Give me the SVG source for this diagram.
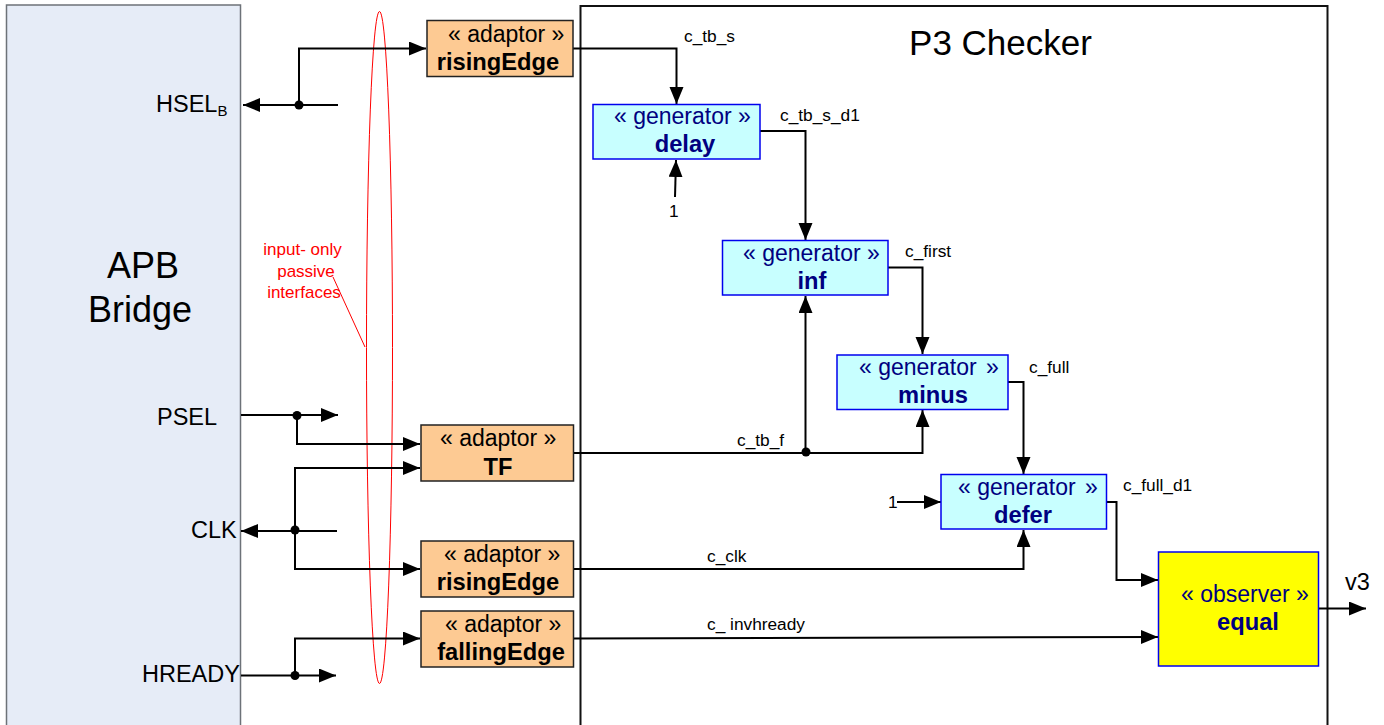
<svg xmlns="http://www.w3.org/2000/svg" width="1384" height="725" viewBox="0 0 1384 725">
<style>
text{font-family:"Liberation Sans",Arial,sans-serif;fill:#000}
.w{fill:none;stroke:#000;stroke-width:2}
.ad{fill:#fdca93;stroke:#222;stroke-width:1.5}
.ge{fill:#c8ffff;stroke:#0000ee;stroke-width:1.5}
.ob{fill:#ffff00;stroke:#0000ee;stroke-width:1.5}
.st{font-size:23px}
.b{font-size:23.7px;font-weight:bold}
text.n{fill:#000080}
.sm{font-size:17.3px}
.pin{font-size:23.5px}
text.r{fill:#ff0000;font-size:17px}
circle{fill:#000}
</style>
<defs>
<marker id="a" markerUnits="userSpaceOnUse" markerWidth="18" markerHeight="15" refX="17" refY="7" orient="auto"><path d="M0,0L17,7L0,14Z" fill="#000"/></marker>
</defs>
<g id="apb-bridge"><rect x="6.500" y="5" width="234" height="725" fill="#e6ecf7" stroke="#6d7278" stroke-width="1.500"/><text x="143" y="278" font-size="36" text-anchor="middle">APB</text><text x="140" y="322" font-size="36" text-anchor="middle">Bridge</text>
<text x="156" y="112" class="pin">HSEL<tspan font-size="15" dy="4">B</tspan></text><text x="157" y="425" class="pin">PSEL</text><text x="191" y="538" class="pin">CLK</text><text x="142" y="682" class="pin">HREADY</text></g>
<g id="p3-checker"><rect x="580.500" y="6" width="747" height="725" fill="#fff" stroke="#111" stroke-width="2"/><text x="1000.500" y="55" font-size="35" text-anchor="middle">P3 Checker</text></g>
<g id="annotation"><ellipse cx="379.500" cy="347.500" rx="13" ry="336" fill="none" stroke="#ff0000" stroke-width="1"/><path d="M333,277L365,347" fill="none" stroke="#ff0000" stroke-width="1"/><text x="302.500" y="255" class="r" text-anchor="middle">input- only</text><text x="306" y="277" class="r" text-anchor="middle">passive</text><text x="304" y="298" class="r" text-anchor="middle">interfaces</text></g>
<g id="connectors">
<path class="w" d="M338,105H243" marker-end="url(#a)"/><path class="w" d="M299,105V48.500H426" marker-end="url(#a)"/><circle cx="299" cy="105" r="4.500"/>
<path class="w" d="M241,415H338" marker-end="url(#a)"/><path class="w" d="M297,415V444H420" marker-end="url(#a)"/><circle cx="297" cy="415.500" r="4.500"/>
<path class="w" d="M337,531H241" marker-end="url(#a)"/><path class="w" d="M295,531V468H420" marker-end="url(#a)"/><path class="w" d="M295,531V569H420" marker-end="url(#a)"/><circle cx="295" cy="530" r="4.500"/>
<path class="w" d="M241,675.500H336" marker-end="url(#a)"/><path class="w" d="M295,675.500V638.500H420" marker-end="url(#a)"/><circle cx="295" cy="675.500" r="4.500"/>
<path class="w" d="M573,48.500H676.500V104" marker-end="url(#a)"/>
<path class="w" d="M760,131H805.500V240" marker-end="url(#a)"/>
<path class="w" d="M888,267.500H922.500V354" marker-end="url(#a)"/>
<path class="w" d="M1008,382H1023.500V474" marker-end="url(#a)"/>
<path class="w" d="M1106,502H1116.500V580H1158" marker-end="url(#a)"/>
<path class="w" d="M574,453H922.500V410" marker-end="url(#a)"/><path class="w" d="M805.500,453V296" marker-end="url(#a)"/><circle cx="806" cy="452" r="4.500"/>
<path class="w" d="M574,569H1023.500V530" marker-end="url(#a)"/>
<path class="w" d="M574,638.500L1158,637" marker-end="url(#a)"/>
<path class="w" d="M675,197L676,160" marker-end="url(#a)"/>
<path class="w" d="M897,502H941" marker-end="url(#a)"/>
<path class="w" d="M1318,608.500H1366" marker-end="url(#a)"/>
</g>
<g id="labels"><text x="684" y="42" class="sm">c_tb_s</text><text x="780" y="121" class="sm">c_tb_s_d1</text><text x="905" y="257" class="sm">c_first</text><text x="1029" y="373" class="sm">c_full</text><text x="1123" y="491" class="sm">c_full_d1</text><text x="737" y="446" class="sm">c_tb_f</text><text x="707" y="562" class="sm">c_clk</text><text x="707" y="630" class="sm">c_ invhready</text><text x="669" y="217" class="sm">1</text><text x="888" y="508" class="sm">1</text><text x="1345" y="590" font-size="23.500">v3</text></g>
<g id="adaptor-risingedge-1"><rect x="427" y="20.500" width="146" height="56" class="ad"/><text x="448" y="42" class="st">« adaptor »</text><text x="498" y="70" class="b" text-anchor="middle">risingEdge</text></g>
<g id="adaptor-tf"><rect x="421" y="425" width="152.500" height="56" class="ad"/><text x="440" y="446" class="st">« adaptor »</text><text x="498" y="475" class="b" text-anchor="middle">TF</text></g>
<g id="adaptor-risingedge-2"><rect x="421" y="541" width="152.500" height="56" class="ad"/><text x="444" y="562" class="st">« adaptor »</text><text x="498" y="590" class="b" text-anchor="middle">risingEdge</text></g>
<g id="adaptor-fallingedge"><rect x="421" y="611" width="152.500" height="56" class="ad"/><text x="445" y="632" class="st">« adaptor »</text><text x="501" y="660" class="b" text-anchor="middle">fallingEdge</text></g>
<g id="generator-delay"><rect x="593" y="104.500" width="167" height="54.500" class="ge"/><text x="614" y="124" class="st n">« generator »</text><text x="685" y="152" class="b n" text-anchor="middle">delay</text></g>
<g id="generator-inf"><rect x="722.500" y="240.500" width="165.500" height="54.500" class="ge"/><text x="743" y="261" class="st n">« generator »</text><text x="812" y="289" class="b n" text-anchor="middle">inf</text></g>
<g id="generator-minus"><rect x="837" y="355" width="171" height="54.500" class="ge"/><text x="859" y="375" class="st n">« generator <tspan dx="3">»</tspan></text><text x="933" y="403" class="b n" text-anchor="middle">minus</text></g>
<g id="generator-defer"><rect x="941" y="474.500" width="165.500" height="54.500" class="ge"/><text x="958" y="495" class="st n">« generator <tspan dx="3">»</tspan></text><text x="1023" y="523" class="b n" text-anchor="middle">defer</text></g>
<g id="observer-equal"><rect x="1158.500" y="552" width="160" height="114" class="ob"/><text x="1181" y="602" class="st n">« observer »</text><text x="1248" y="630" class="b n" text-anchor="middle">equal</text></g>
</svg>
